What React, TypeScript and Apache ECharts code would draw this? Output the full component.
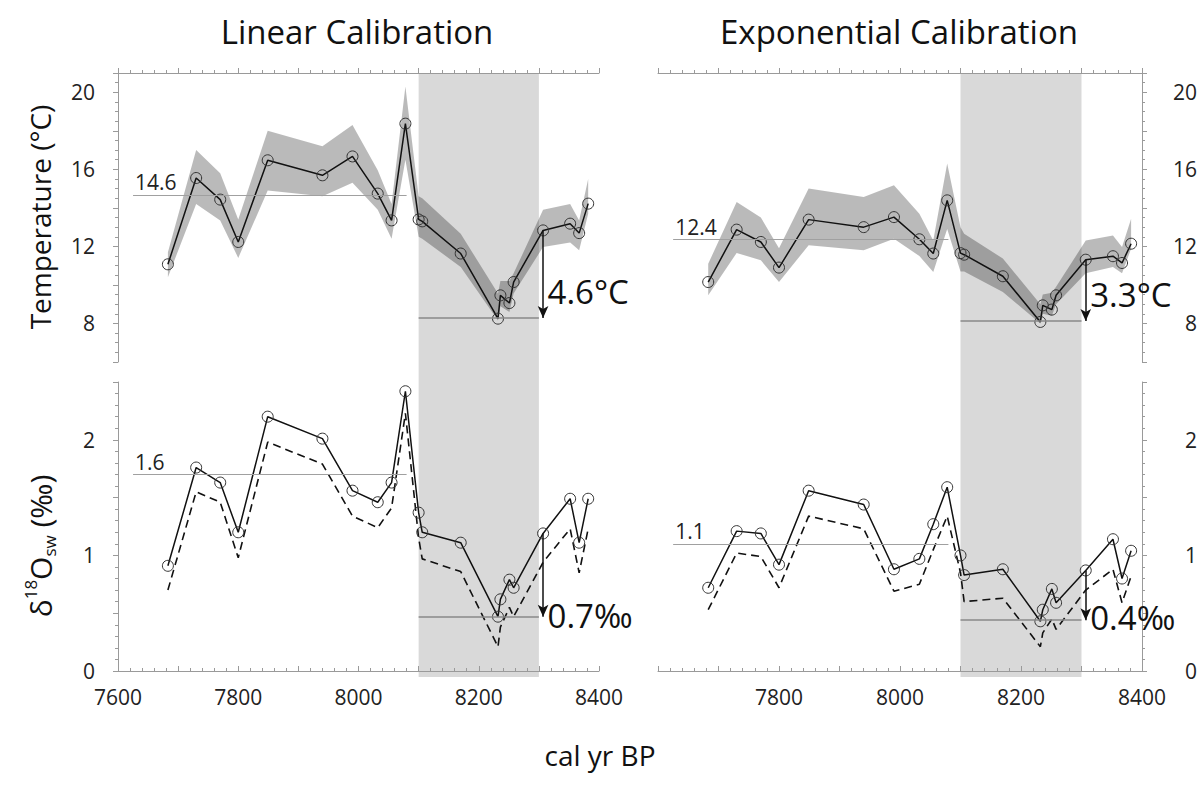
import React, { useEffect, useRef } from 'react';
import * as echarts from 'echarts';

// ---------- data ----------
const ages = [7683, 7730, 7770, 7800, 7849, 7940, 7990, 8032, 8055, 8078, 8100, 8106, 8170, 8232, 8236, 8251, 8258, 8307, 8352, 8367, 8382];

const linTemp = [11.07, 15.55, 14.43, 12.23, 16.47, 15.69, 16.67, 14.74, 13.35, 18.37, 13.4, 13.3, 11.63, 8.25, 9.46, 9.06, 10.15, 12.83, 13.18, 12.69, 14.22];
const linTempHi = [11.7, 17.0, 15.8, 13.4, 18.0, 17.2, 18.3, 15.95, 14.2, 20.3, 14.6, 14.5, 12.66, 9.55, 10.2, 10.2, 10.6, 13.9, 14.2, 13.35, 15.5];
const linTempLo = [10.4, 14.2, 13.35, 11.4, 14.9, 14.6, 15.3, 13.9, 12.4, 16.5, 12.5, 12.4, 10.93, 8.16, 8.9, 8.6, 9.55, 11.97, 12.2, 11.8, 13.7];

const expTemp = [10.15, 12.87, 12.23, 10.9, 13.39, 13.0, 13.52, 12.37, 11.63, 14.39, 11.65, 11.57, 10.45, 8.08, 8.94, 8.72, 9.46, 11.31, 11.49, 11.14, 12.14];
const expTempHi = [11.1, 14.3, 13.5, 11.9, 15.0, 14.56, 15.17, 13.7, 12.3, 16.3, 13.0, 12.66, 11.37, 9.0, 9.5, 9.6, 9.9, 12.3, 12.57, 11.97, 13.44];
const expTempLo = [9.46, 11.66, 11.28, 10.15, 12.06, 11.8, 12.4, 11.5, 10.67, 12.9, 10.7, 10.7, 9.63, 8.0, 8.5, 8.4, 9.0, 10.6, 10.93, 10.6, 11.88];

const linD18O = [0.91, 1.76, 1.63, 1.2, 2.2, 2.01, 1.56, 1.46, 1.63, 2.42, 1.37, 1.2, 1.11, 0.47, 0.62, 0.79, 0.72, 1.19, 1.49, 1.11, 1.49];
const linD18OAlt = [0.7, 1.55, 1.46, 0.98, 1.98, 1.79, 1.34, 1.24, 1.41, 2.23, 1.15, 0.97, 0.86, 0.21, 0.38, 0.55, 0.47, 0.94, 1.23, 0.85, 1.23];

const expD18O = [0.72, 1.21, 1.19, 0.92, 1.56, 1.44, 0.88, 0.97, 1.27, 1.59, 1.0, 0.83, 0.88, 0.43, 0.53, 0.71, 0.59, 0.87, 1.14, 0.8, 1.04];
const expD18OAlt = [0.53, 1.02, 0.99, 0.72, 1.34, 1.23, 0.69, 0.75, 1.05, 1.34, 0.85, 0.6, 0.63, 0.21, 0.33, 0.45, 0.36, 0.7, 0.88, 0.59, 0.82];

const eventRange = [8100, 8300];
const meanRange = [7625, 8080];
// panels: 0 upper-left, 1 lower-left, 2 upper-right, 3 lower-right
const meanValues = [14.67, 1.7, 12.35, 1.1];
const meanLabels = ['14.6', '1.6', '12.4', '1.1'];
const minValues = [8.28, 0.47, 8.13, 0.44];
const dropLabels = ['4.6°C', '0.7‰', '3.3°C', '0.4‰'];
const dropLabelY = [9.65, 0.48, 9.5, 0.46];
const arrowIndex = 17;

const xRange = [7600, 8400];
const tempRange = [6, 21];
const d18ORange = [0, 2.5];
// shading extents (data units) that reach the gap between stacked panels
const shadeTemp = [5.48, 21];
const shadeD18O = [-0.052, 2.587];

const FONT = 'Open Sans';
const AXIS_COLOR = '#9a9a9a';

const grids = [
  { left: 118, top: 73, width: 481, height: 289 },
  { left: 118, top: 382, width: 481, height: 289 },
  { left: 658, top: 73, width: 484, height: 289 },
  { left: 658, top: 382, width: 484, height: 289 },
];

function xAxis(p: number) {
  const upper = p === 0 || p === 2;
  const right = p >= 2;
  return {
    type: 'value',
    gridIndex: p,
    min: xRange[0],
    max: xRange[1],
    interval: 100,
    position: upper ? 'top' : 'bottom',
    offset: upper ? 0 : 6,
    z: 5,
    axisLine: { show: true, lineStyle: { color: AXIS_COLOR, width: 1 } },
    axisTick: { show: true, inside: !upper, length: 5, lineStyle: { color: AXIS_COLOR } },
    minorTick: { show: true, splitNumber: 5, length: 3, lineStyle: { color: AXIS_COLOR } },
    splitLine: { show: false },
    axisLabel: {
      show: !upper,
      fontSize: 21,
      fontFamily: FONT,
      color: '#222',
      margin: 9,
      formatter: (v: number) => (v % 200 === 0 && !(right && v === 7600) ? String(v) : ''),
    },
  };
}

function yAxis(p: number) {
  const upper = p === 0 || p === 2;
  const right = p >= 2;
  const range = upper ? tempRange : d18ORange;
  return {
    type: 'value',
    gridIndex: p,
    min: range[0],
    max: range[1],
    interval: upper ? 2 : 0.5,
    position: right ? 'right' : 'left',
    z: 5,
    axisLine: { show: true, lineStyle: { color: AXIS_COLOR, width: 1 } },
    axisTick: { show: true, length: 5, lineStyle: { color: AXIS_COLOR } },
    minorTick: { show: true, splitNumber: upper ? 4 : 5, length: 3, lineStyle: { color: AXIS_COLOR } },
    splitLine: { show: false },
    axisLabel: {
      fontSize: 21,
      fontFamily: FONT,
      color: '#222',
      align: 'right',
      margin: right ? 55 : 23,
      formatter: (v: number) => {
        if (upper) return v % 4 === 0 && v >= 8 && v <= 20 ? String(v) : '';
        return Math.abs(v - Math.round(v)) < 1e-9 ? String(Math.round(v)) : '';
      },
    },
  };
}

function shadeSeries(p: number) {
  const upper = p === 0 || p === 2;
  const ext = upper ? shadeTemp : shadeD18O;
  return {
    type: 'custom',
    xAxisIndex: p,
    yAxisIndex: p,
    z: 1,
    silent: true,
    clip: false,
    data: [[eventRange[0], ext[1]]],
    renderItem: (_params: any, api: any) => {
      const a = api.coord([eventRange[0], ext[1]]);
      const b = api.coord([eventRange[1], ext[0]]);
      return {
        type: 'rect',
        shape: { x: a[0], y: a[1], width: b[0] - a[0], height: b[1] - a[1] },
        style: { fill: '#d9d9d9' },
        silent: true,
      };
    },
  };
}

function bandSeries(p: number, lo: number[], hi: number[]) {
  return {
    type: 'custom',
    xAxisIndex: p,
    yAxisIndex: p,
    z: 2,
    silent: true,
    data: [[ages[0], lo[0]]],
    renderItem: (params: any, api: any) => {
      if (params.dataIndex !== 0) return null;
      const top = ages.map((a, i) => api.coord([a, hi[i]]));
      const bot = ages.map((a, i) => api.coord([a, lo[i]])).reverse();
      return {
        type: 'polygon',
        shape: { points: top.concat(bot) },
        style: { fill: 'rgba(0,0,0,0.27)' },
        silent: true,
      };
    },
  };
}

function dashedSeries(p: number, vals: number[]) {
  return {
    type: 'line',
    xAxisIndex: p,
    yAxisIndex: p,
    z: 3,
    silent: true,
    data: ages.map((a, i) => [a, vals[i]]),
    symbol: 'none',
    lineStyle: { color: '#111', width: 1.6, type: [8, 5] },
  };
}

function mainSeries(p: number, vals: number[]) {
  return {
    type: 'line',
    xAxisIndex: p,
    yAxisIndex: p,
    z: 4,
    silent: true,
    data: ages.map((a, i) => [a, vals[i]]),
    symbol: 'circle',
    symbolSize: 11,
    showSymbol: true,
    itemStyle: { color: 'rgba(255,255,255,0)', borderColor: '#333', borderWidth: 1 },
    lineStyle: { color: '#111', width: 1.5 },
    markLine: {
      silent: true,
      symbol: ['none', 'none'],
      label: { show: false },
      data: [
        [
          {
            coord: [meanRange[0], meanValues[p]],
            lineStyle: { color: '#a0a0a0', width: 1.2, type: 'solid' },
            label: {
              show: true,
              position: 'insideStartTop',
              formatter: meanLabels[p],
              fontSize: 21,
              fontFamily: FONT,
              color: '#222',
              distance: 2,
            },
          },
          { coord: [meanRange[1], meanValues[p]] },
        ],
        [
          { coord: [eventRange[0], minValues[p]], lineStyle: { color: '#888', width: 1.6, type: 'solid' } },
          { coord: [eventRange[1], minValues[p]] },
        ],
        [
          { coord: [ages[arrowIndex], vals[arrowIndex]], symbol: 'none', lineStyle: { color: '#111', width: 1.5, type: 'solid' } },
          { coord: [ages[arrowIndex], minValues[p]], symbol: 'arrow', symbolSize: [8, 12] },
        ],
      ],
    },
    markPoint: {
      silent: true,
      symbol: 'circle',
      symbolSize: 1,
      itemStyle: { color: 'rgba(0,0,0,0)' },
      data: [
        {
          coord: [ages[arrowIndex], dropLabelY[p]],
          label: {
            show: true,
            position: 'right',
            distance: 4,
            formatter: dropLabels[p],
            fontSize: 33,
            fontFamily: FONT,
            color: '#111',
          },
        },
      ],
    },
  };
}

function buildOption() {
  return {
    animation: false,
    backgroundColor: '#ffffff',
    grid: grids,
    xAxis: [0, 1, 2, 3].map(xAxis),
    yAxis: [0, 1, 2, 3].map(yAxis),
    series: [
      shadeSeries(0),
      shadeSeries(1),
      shadeSeries(2),
      shadeSeries(3),
      bandSeries(0, linTempLo, linTempHi),
      bandSeries(2, expTempLo, expTempHi),
      dashedSeries(1, linD18OAlt),
      dashedSeries(3, expD18OAlt),
      mainSeries(0, linTemp),
      mainSeries(1, linD18O),
      mainSeries(2, expTemp),
      mainSeries(3, expD18O),
    ],
    graphic: [
      {
        type: 'text', x: 357, y: 31,
        style: { text: 'Linear Calibration', fontSize: 33, fontFamily: FONT, fill: '#111', align: 'center', verticalAlign: 'middle' },
      },
      {
        type: 'text', x: 899, y: 31,
        style: { text: 'Exponential Calibration', fontSize: 33, fontFamily: FONT, fill: '#111', align: 'center', verticalAlign: 'middle' },
      },
      {
        type: 'text', x: 40, y: 217, rotation: Math.PI / 2,
        style: { text: 'Temperature (°C)', fontSize: 28, fontFamily: FONT, fill: '#111', align: 'center', verticalAlign: 'middle' },
      },
      {
        type: 'text', x: 40, y: 546, rotation: Math.PI / 2,
        style: {
          text: '{a|δ}{sup|18}{a|O}{sub|sw}{a| (‰)}',
          align: 'center',
          verticalAlign: 'middle',
          fill: '#111',
          rich: {
            a: { fontSize: 30, fontFamily: FONT, fill: '#111', lineHeight: 36, verticalAlign: 'middle' },
            sup: { fontSize: 17, fontFamily: FONT, fill: '#111', lineHeight: 17, verticalAlign: 'top' },
            sub: { fontSize: 17, fontFamily: FONT, fill: '#111', lineHeight: 17, verticalAlign: 'bottom' },
          },
        },
      },
      {
        type: 'text', x: 600, y: 755,
        style: { text: 'cal yr BP', fontSize: 28, fontFamily: FONT, fill: '#111', align: 'center', verticalAlign: 'middle' },
      },
    ],
  };
}

export default function App() {
  const ref = useRef<HTMLDivElement>(null);
  useEffect(() => {
    if (!ref.current) return;
    const chart = echarts.init(ref.current, null, { renderer: 'svg' });
    chart.setOption(buildOption() as any);
    return () => chart.dispose();
  }, []);
  return (
    <div
      ref={ref}
      style={{ position: 'fixed', left: 0, top: 0, width: 1202, height: 785, background: '#fff' }}
    />
  );
}
